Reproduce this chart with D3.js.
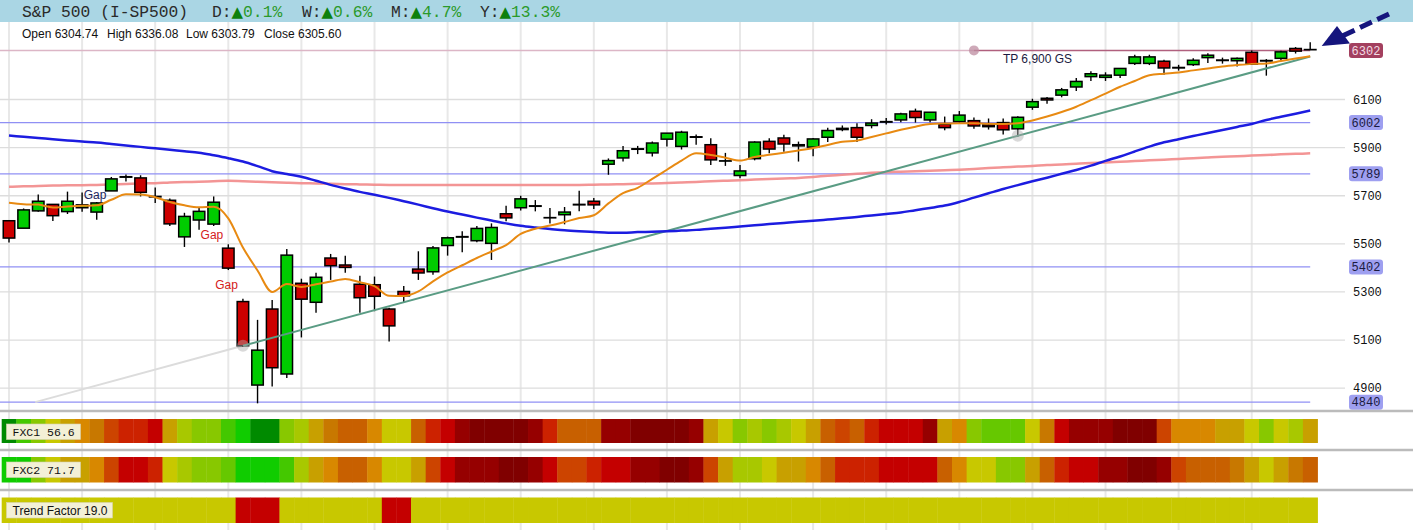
<!DOCTYPE html>
<html><head><meta charset="utf-8">
<script src="https://cdn.jsdelivr.net/npm/d3@7"></script>
<style>body{margin:0;background:#fff;}svg{display:block;}</style>
</head><body><svg id="c" width="1413" height="530"></svg>
<script>
// ---------------- DATA ----------------
const dates = ["03-13","03-14","03-17","03-18","03-19","03-20","03-21","03-24","03-25","03-26","03-27","03-28","03-31",
"04-01","04-02","04-03","04-04","04-07","04-08","04-09","04-10","04-11","04-14","04-15","04-16","04-17","04-21","04-22","04-23","04-24","04-25","04-28","04-29","04-30",
"05-01","05-02","05-05","05-06","05-07","05-08","05-09","05-12","05-13","05-14","05-15","05-16","05-19","05-20","05-21","05-22","05-23","05-27","05-28","05-29","05-30",
"06-02","06-03","06-04","06-05","06-06","06-09","06-10","06-11","06-12","06-13","06-16","06-17","06-18","06-20","06-23","06-24","06-25","06-26","06-27","06-30",
"07-01","07-02","07-03","07-04","07-07","07-08","07-09","07-10","07-11","07-14","07-15","07-16","07-17","07-18","07-21"];
const opens = [5594,5563,5635,5662,5632,5648,5630,5718,5775,5772,5695,5679,5527,5597,5580,5480,5258,4911,5227,4957,5334,5255,5439,5410,5330,5328,5227,5300,5393,5382,5491,5526,5511,5500,5623,5648,5654,5606,5619,5660,5675,5829,5855,5891,5876,5933,5903,5943,5910,5842,5782,5852,5924,5938,5905,5900,5941,5978,5981,5990,6004,6013,6049,6013,5995,6006,6010,5992,6002,5976,6066,6103,6116,6150,6193,6190,6199,6248,6248,6257,6231,6243,6272,6262,6259,6294,6258,6269,6310,6304.74];
const highs = [5597,5645,5703,5662,5715,5711,5672,5776,5786,5783,5732,5686,5627,5650,5695,5496,5270,5182,5265,5477,5353,5378,5456,5448,5365,5362,5232,5323,5467,5489,5528,5550,5572,5583,5656,5698,5680,5647,5651,5719,5688,5853,5905,5905,5923,5958,5968,5952,5937,5876,5826,5924,5937,5951,5923,5938,5981,5990,5999,6016,6021,6043,6060,6045,6027,6050,6023,6019,6019,6028,6101,6108,6146,6187,6215,6211,6228,6284,6284,6263,6242,6269,6290,6272,6273,6302,6266,6301,6316,6336.08];
const lows = [5504,5563,5631,5593,5622,5631,5598,5718,5757,5695,5668,5572,5485,5557,5572,5389,5069,4835,4905,4940,5109,5212,5348,5378,5212,5218,5092,5253,5348,5370,5449,5463,5505,5431,5592,5637,5633,5582,5579,5633,5643,5785,5840,5871,5861,5903,5890,5910,5826,5822,5771,5845,5875,5881,5840,5862,5921,5966,5921,5978,5994,6003,6002,6003,5970,6000,5976,5973,5952,5943,6055,6080,6107,6133,6175,6175,6187,6241,6241,6201,6218,6237,6250,6247,6235,6242,6197,6261,6289,6303.79];
const closes = [5522,5639,5675,5615,5675,5660,5668,5768,5777,5712,5693,5581,5612,5633,5671,5397,5074,5056,4983,5451,5268,5359,5407,5400,5274,5280,5157,5282,5377,5481,5523,5528,5562,5566,5606,5685,5656,5607,5630,5662,5660,5844,5885,5893,5917,5958,5962,5941,5847,5843,5801,5921,5892,5913,5910,5934,5969,5973,5941,6000,6006,6038,6023,6045,5981,6033,5988,5985,5972,6024,6089,6096,6138,6173,6205,6199,6227,6275,6275,6229,6229,6261,6282,6260,6269,6245,6260,6296,6299,6305.60];
// moving averages
const maFast = [5669,5663,5661,5649,5653,5656,5658,5681,5704,5703,5692,5672,5658,5650,5652,5604,5483,5387,5298,5331,5319,5330,5341,5352,5338,5322,5282,5281,5300,5342,5379,5409,5439,5466,5493,5539,5561,5574,5589,5605,5617,5666,5709,5731,5768,5806,5844,5874,5867,5856,5844,5859,5868,5877,5886,5896,5909,5922,5927,5942,5957,5972,5985,5996,5998,5999,5999,5997,5996,5999,6011,6027,6046,6068,6095,6122,6151,6175,6199,6205,6210,6219,6227,6235,6241,6246,6248,6258,6268,6278];
const maMid = [5948,5943,5938,5933,5928,5923,5919,5913,5907,5901,5895,5889,5883,5877,5866,5854,5840,5821,5800,5788,5777,5760,5743,5728,5714,5702,5689,5675,5661,5646,5632,5620,5607,5595,5583,5573,5566,5560,5554,5550,5547,5544,5544,5547,5548,5550,5553,5556,5561,5565,5570,5575,5580,5585,5590,5594,5599,5604,5610,5616,5622,5628,5638,5647,5657,5672,5690,5708,5726,5742,5758,5773,5789,5805,5823,5843,5861,5882,5902,5920,5933,5946,5959,5971,5984,5996,6013,6026,6039,6052];
const maSlow = [5735,5737,5738,5740,5741,5742,5743,5745,5747,5749,5750,5753,5755,5756,5758,5760,5758,5756,5754,5752,5750,5749,5748,5746,5745,5744,5743,5743,5743,5743,5743,5743,5743,5743,5743,5743,5743,5743,5743,5743,5744,5745,5746,5748,5749,5751,5753,5755,5758,5760,5762,5765,5767,5770,5772,5776,5781,5785,5789,5793,5796,5798,5800,5802,5804,5806,5809,5813,5816,5819,5822,5826,5828,5831,5834,5836,5839,5842,5845,5848,5851,5854,5857,5860,5862,5865,5867,5870,5872,5874];
const yTicks = [4900,5100,5300,5500,5700,5900,6100];
const levelValues = [6002,5789,5402,4840];
const targetLevel = 6302;
const targetFrom = 66;
const targetText = "TP 6,900 GS";
const trendAnchorIdx = [16,69];
const trendAnchorVal = [5074,5947];
const gapIdx = [7,15,16];
const gapText = ["Gap","Gap","Gap"];
const headerTitle = "S&P 500 (I-SP500)";
const headerPeriods = ["D","W","M","Y"];
const headerChanges = [0.1,0.6,4.7,13.3];
const ohlcLabels = ["Open","High","Low","Close"];
const ohlcValues = ["6304.74","6336.08","6303.79","6305.60"];
// heat rows: colour-level codes (0 = deep red ... 15 = deep green)
const fxc1 = [15,13,11,9,8,7,6,4,3,3,2,8,10,11,11,13,14,15,15,11,10,8,6,5,5,7,9,9,5,3,2,1,0,0,0,0,1,3,5,5,5,1,1,0,0,0,0,1,8,9,11,10,11,10,9,8,5,4,5,3,2,2,2,1,8,7,11,12,12,12,9,6,2,1,1,1,0,0,0,4,7,7,7,8,8,9,11,9,10,8];
const fxc2 = [14,14,11,9,8,8,7,4,2,2,3,9,10,11,11,12,14,14,14,13,10,8,7,5,5,7,9,9,8,4,2,1,1,1,0,0,1,2,4,4,3,2,2,1,1,0,0,1,4,8,10,10,9,8,8,7,5,3,3,3,2,2,2,2,5,7,9,9,11,11,8,5,3,2,2,1,1,0,0,1,4,5,5,5,6,8,9,8,6,5];
const trendCodes = [9,9,9,9,9,9,9,9,9,9,9,9,9,9,9,9,2,2,2,9,9,9,9,9,9,9,2,2,9,9,9,9,9,9,9,9,9,9,9,9,9,9,9,9,9,9,9,9,9,9,9,9,9,9,9,9,9,9,9,9,9,9,9,9,9,9,9,9,9,9,9,9,9,9,9,9,9,9,9,9,9,9,9,9,9,9,9,9,9,9];
const rowNames = ["FXC1 56.6","FXC2 71.7","Trend Factor 19.0"];

// ---------------- STYLE / LAYOUT ----------------
const palette = ["#800000","#960000","#c40000","#cc2200","#cc4400","#c86000","#c87800","#d88800","#c8a000","#c8c800","#a8c800","#88c800","#66c800","#44c800","#10cc00","#008a00"];
const W = 1413, H = 530;
const svg = d3.select("#c");
const n = closes.length;
const x = d3.scaleLinear().domain([0, n-1]).range([9, 1310.2]);
const step = x(1) - x(0);
const y = d3.scaleLinear().domain([4900, 6100]).range([387.7, 99]);
const color = d3.scaleOrdinal().domain(d3.range(palette.length)).range(palette);
const sans = "Arial, 'Liberation Sans', sans-serif";
const mono = "'Liberation Mono', monospace";

// vertical grid (full height)
svg.append("g").selectAll("line").data(d3.range(0, n, 5)).join("line")
  .attr("x1", d => x(d)).attr("x2", d => x(d)).attr("y1", 22).attr("y2", H)
  .attr("stroke", "#e8e8e8").attr("stroke-width", 2);

// horizontal grid + tick labels
const yAxis = d3.axisRight(y).tickValues(yTicks).tickSize(1345).tickFormat(d3.format("d"));
const ag = svg.append("g").call(yAxis);
ag.select(".domain").remove();
ag.selectAll(".tick line").attr("stroke", "#dddddd").attr("stroke-width", 1.3);
ag.selectAll(".tick text").attr("x", 1353).attr("dy", "0.35em")
  .style("font-family", mono).style("font-size", "12px").attr("fill", "#111").attr("text-anchor", "start");

// header band
svg.append("rect").attr("x", 0).attr("y", 0).attr("width", W).attr("height", 22).attr("fill", "#aad6e4");
svg.append("text").attr("x", 22).attr("y", 17).text(headerTitle)
  .style("font-family", mono).style("font-size", "16.3px").attr("fill", "#2a2a2a");
const hx = [212, 302, 391, 480];
headerPeriods.forEach((p, i) => {
  const t = svg.append("text").attr("x", hx[i]).attr("y", 17)
    .style("font-family", mono).style("font-size", "16.3px");
  t.append("tspan").attr("fill", "#2a2a2a").text(p + ":");
  t.append("tspan").attr("fill", "#0c800c").style("font-family", "'DejaVu Sans', sans-serif").style("font-size", "15px").text("\u25B2");
  t.append("tspan").attr("fill", "#2a9a2a").text(headerChanges[i].toFixed(1) + "%");
});
// OHLC readout
const ox = [22, 107, 186, 264];
ohlcLabels.forEach((l, i) => {
  svg.append("text").attr("x", ox[i]).attr("y", 37.5).text(l + " " + ohlcValues[i])
    .style("font-family", sans).style("font-size", "12px").attr("fill", "#111");
});

// support / resistance levels
svg.append("g").selectAll("line").data(levelValues).join("line")
  .attr("x1", 0).attr("x2", x(n-1)).attr("y1", d => y(d)).attr("y2", d => y(d))
  .attr("stroke", "#9090f4").attr("stroke-width", 1.2);
svg.append("line").attr("x1", 0).attr("x2", x(targetFrom)).attr("y1", y(targetLevel)).attr("y2", y(targetLevel))
  .attr("stroke", "#dcb6c6").attr("stroke-width", 1.5);
svg.append("line").attr("x1", x(targetFrom)).attr("x2", x(n-1)).attr("y1", y(targetLevel)).attr("y2", y(targetLevel))
  .attr("stroke", "#b0607e").attr("stroke-width", 1.5);
svg.append("circle").attr("cx", x(targetFrom)).attr("cy", y(targetLevel)).attr("r", 5).attr("fill", "rgba(190,140,160,0.75)");
svg.append("text").attr("x", x(targetFrom) + 29).attr("y", y(targetLevel) + 13).text(targetText)
  .style("font-family", sans).style("font-size", "12px").attr("fill", "#1a1a40");

// level labels
const lab = svg.append("g");
levelValues.forEach(v => {
  lab.append("rect").attr("x", 1349).attr("y", y(v) - 7.5).attr("width", 34).attr("height", 15).attr("rx", 3).attr("fill", "#9e9ff0");
  lab.append("text").attr("x", 1366).attr("y", y(v)).attr("dy", "0.36em").attr("text-anchor", "middle").text(v)
    .style("font-family", mono).style("font-size", "12px").attr("fill", "#1a1a40");
});
lab.append("rect").attr("x", 1349).attr("y", y(targetLevel) - 7.5).attr("width", 34).attr("height", 15).attr("rx", 3).attr("fill", "#a3405f");
lab.append("text").attr("x", 1366).attr("y", y(targetLevel)).attr("dy", "0.36em").attr("text-anchor", "middle").text(targetLevel)
  .style("font-family", mono).style("font-size", "12px").attr("fill", "#f4dce4");

// slow MA
const line = arr => d3.line().x((d, i) => x(i)).y(d => y(d)).curve(d3.curveMonotoneX)(arr);
svg.append("path").attr("d", line(maSlow)).attr("fill", "none").attr("stroke", "#f28a8a").attr("stroke-width", 2.5).attr("opacity", 0.9);

// trend line (grey extension to the left)
const slope = (trendAnchorVal[1] - trendAnchorVal[0]) / (trendAnchorIdx[1] - trendAnchorIdx[0]);
const tAt = i => trendAnchorVal[0] + slope * (i - trendAnchorIdx[0]);
const iStart = trendAnchorIdx[0] - (trendAnchorVal[0] - 4840) / slope;
svg.append("line").attr("x1", x(iStart)).attr("y1", y(tAt(iStart))).attr("x2", x(trendAnchorIdx[0])).attr("y2", y(tAt(trendAnchorIdx[0])))
  .attr("stroke", "#dcdcdc").attr("stroke-width", 2);

// candles
const cg = svg.append("g");
const bw = 11.5;
d3.range(n).forEach(i => {
  cg.append("line").attr("x1", x(i)).attr("x2", x(i)).attr("y1", y(highs[i])).attr("y2", y(lows[i]))
    .attr("stroke", "#000").attr("stroke-width", 1.4);
  const top = y(Math.max(opens[i], closes[i])), bot = y(Math.min(opens[i], closes[i]));
  cg.append("rect").attr("x", x(i) - bw/2).attr("y", top).attr("width", bw).attr("height", Math.max(0.01, bot - top))
    .attr("fill", closes[i] >= opens[i] ? "#00cc00" : "#cc0000").attr("stroke", "#000").attr("stroke-width", 1.5);
});

svg.append("line").attr("x1", x(trendAnchorIdx[0])).attr("y1", y(tAt(trendAnchorIdx[0]))).attr("x2", x(n-1)).attr("y2", y(tAt(n-1)))
  .attr("stroke", "#5a9c84").attr("stroke-width", 2);
trendAnchorIdx.forEach(i => svg.append("circle").attr("cx", x(i)).attr("cy", y(tAt(i))).attr("r", 6).attr("fill", "rgba(170,170,170,0.45)"));

svg.append("path").attr("d", line(maMid)).attr("fill", "none").attr("stroke", "#1c1ce0").attr("stroke-width", 2.5);
svg.append("path").attr("d", line(maFast)).attr("fill", "none").attr("stroke", "#e88a12").attr("stroke-width", 2);

// gap labels (placed beside the bar before each gap)
const gapColor = ["#1c2660", "#d42020", "#d42020"];
const gapRef = [highs[gapIdx[0]-1], lows[gapIdx[1]-1], lows[gapIdx[2]-1]];
const gapDy = [-3, 12.5, 18.5];
gapIdx.forEach((gi, k) => {
  svg.append("text").attr("x", x(gi) - 5).attr("y", y(gapRef[k]) + gapDy[k]).attr("text-anchor", "end")
    .text(gapText[k]).style("font-family", sans).style("font-size", "12px").attr("fill", gapColor[k]);
});

// panel separators
[411, 450, 490].forEach(yy => svg.append("line").attr("x1", 0).attr("x2", W).attr("y1", yy).attr("y2", yy).attr("stroke", "#bbbbbb").attr("stroke-width", 2.5));

// heat rows
const rows = [fxc1, fxc2, trendCodes];
const rowY = [419, 457, 497.5];
const rowH = [24, 25.5, 25.5];
rows.forEach((codes, r) => {
  svg.append("g").selectAll("rect").data(codes).join("rect")
    .attr("x", (d, i) => x(i) - step/2).attr("y", rowY[r]).attr("width", step + 0.4).attr("height", rowH[r])
    .attr("fill", d => color(d));
});
const labW = [74, 74, 106];
rows.forEach((c, r) => {
  svg.append("rect").attr("x", 6.5).attr("y", rowY[r] + 5).attr("width", labW[r]).attr("height", 15.5)
    .attr("fill", "#f3f0d6").attr("stroke", "#d8d4b0").attr("stroke-width", 0.6);
  svg.append("text").attr("x", 12.5).attr("y", rowY[r] + 17).text(rowNames[r])
    .style("font-family", r < 2 ? mono : sans)
    .style("font-size", r < 2 ? "11.5px" : "12px").attr("fill", "#111");
});

// arrow pointing at last bar
svg.append("line").attr("x1", 1389).attr("y1", 14).attr("x2", 1340).attr("y2", 37)
  .attr("stroke", "#15157d").attr("stroke-width", 5).attr("stroke-dasharray", "13,6");
svg.append("path").attr("d", "M1321.7,46 L1337,26 L1350,43.5 Z").attr("fill", "#15157d");
</script></body></html>
